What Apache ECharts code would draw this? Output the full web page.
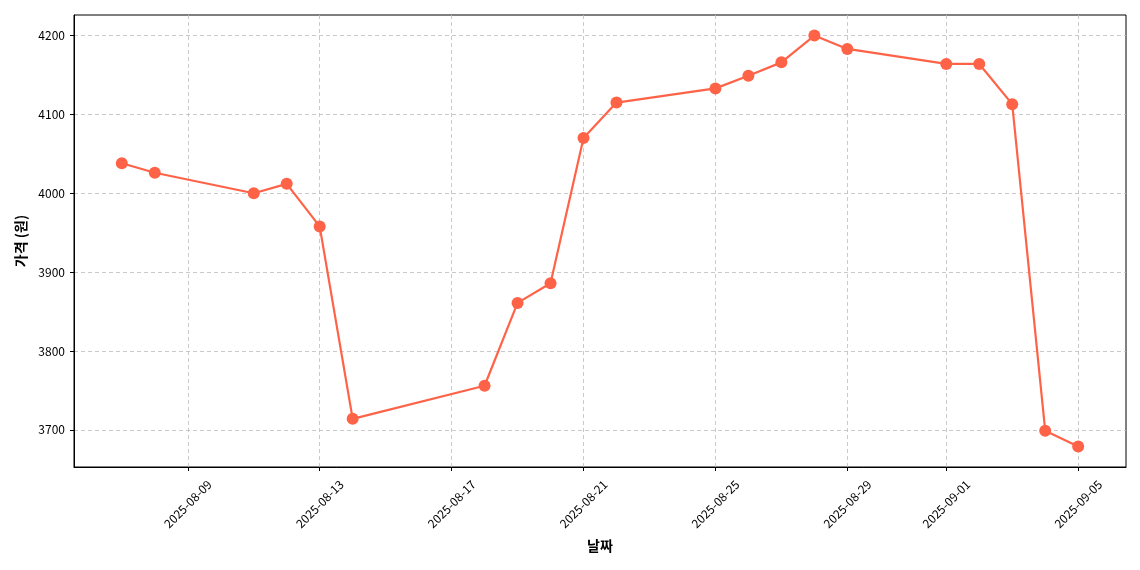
<!DOCTYPE html>
<html>
<head>
<meta charset="utf-8">
<script src="https://cdn.jsdelivr.net/npm/echarts@6/dist/echarts.min.js"></script>
<style>
html,body{margin:0;padding:0;background:#fff;}
#chart{width:1140px;height:570px;}
</style>
</head>
<body>
<div id="chart"></div>
<script>
const dates = ['2025-08-07','2025-08-08','2025-08-11','2025-08-12','2025-08-13','2025-08-14',
  '2025-08-18','2025-08-19','2025-08-20','2025-08-21','2025-08-22','2025-08-25','2025-08-26',
  '2025-08-27','2025-08-28','2025-08-29','2025-09-01','2025-09-02','2025-09-03','2025-09-04','2025-09-05'];
const prices = [4038,4026,4000,4012,3958,3714,3756,3861,3886,4070,4115,4133,4149,4166,4200,4183,4164,4164,4113,3699,3679];
const xTickLabels = ['2025-08-09','2025-08-13','2025-08-17','2025-08-21','2025-08-25','2025-08-29','2025-09-01','2025-09-05'];
const yTickLabels = [3700,3800,3900,4000,4100,4200];

const ts = s => Date.parse(s + 'T00:00:00Z');
const xs = dates.map(ts);
const xMin = xs[0], xMax = xs[xs.length-1];
const xPad = (xMax - xMin) * 0.05;
const yLo = Math.min(...prices), yHi = Math.max(...prices);
const yPad = (yHi - yLo) * 0.05;
const xTicks = xTickLabels.map(ts);
const fmt = v => new Date(v).toISOString().slice(0,10);
const font = '"Noto Sans CJK KR", "Noto Sans", sans-serif';

const chart = echarts.init(document.getElementById('chart'), null, {renderer:'canvas'});
chart.setOption({
  animation: false,
  backgroundColor: '#ffffff',
  grid: {left: 74, right: 14, top: 15, bottom: 103, show: true, borderColor: '#000', borderWidth: 1, backgroundColor: 'transparent'},
  xAxis: {
    type: 'value',
    min: xMin - xPad, max: xMax + xPad,
    name: '날짜', nameLocation: 'middle', nameGap: 72,
    nameTextStyle: {fontFamily: font, fontSize: 14, fontWeight: 'bold', color: '#000'},
    axisLine: {show: true, lineStyle: {color: '#000', width: 1}},
    axisTick: {show: true, length: 4, lineStyle: {color: '#000'}, customValues: xTicks},
    axisLabel: {customValues: xTicks, formatter: fmt, rotate: 45, align: 'center', verticalAlign: 'middle',
      fontFamily: font, fontSize: 12, color: '#000', margin: 37},
    splitLine: {show: true, lineStyle: {color: '#bdbdbd', type: [4, 3], width: 0.8}}
  },
  yAxis: {
    type: 'value',
    min: yLo - yPad, max: yHi + yPad,
    name: '가격 (원)', nameLocation: 'middle', nameGap: 46,
    nameTextStyle: {fontFamily: font, fontSize: 14, fontWeight: 'bold', color: '#000'},
    axisLine: {show: true, lineStyle: {color: '#000', width: 1}},
    axisTick: {show: true, length: 4, lineStyle: {color: '#000'}, customValues: yTickLabels},
    axisLabel: {customValues: yTickLabels, formatter: v => String(v), fontFamily: font, fontSize: 12, color: '#000', margin: 9},
    splitLine: {show: true, lineStyle: {color: '#bdbdbd', type: [4, 3], width: 0.8}}
  },
  series: [{
    type: 'line',
    data: xs.map((x, i) => [x, prices[i]]),
    symbol: 'circle', symbolSize: 12,
    itemStyle: {color: '#FF6347'},
    lineStyle: {color: '#FF6347', width: 2.2},
    z: 3
  }]
});
</script>
</body>
</html>
